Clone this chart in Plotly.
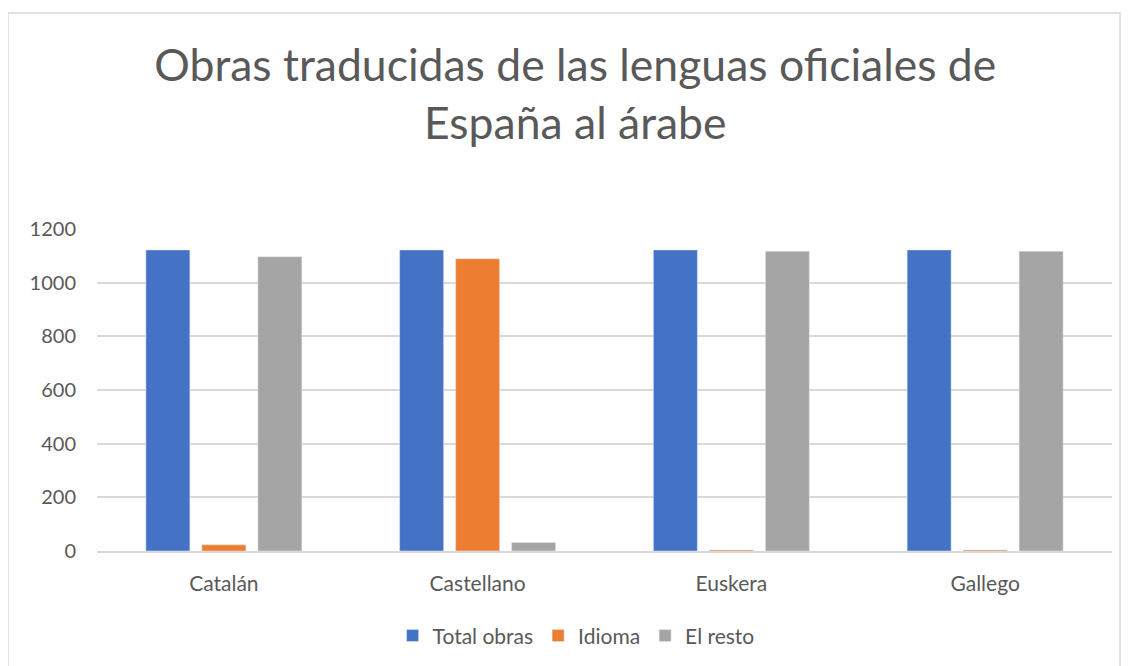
import plotly.graph_objects as go

categorias = ["Catalán", "Castellano", "Euskera", "Gallego"]
total_obras = [1122, 1122, 1122, 1122]
idioma = [23, 1089, 4, 4]
el_resto = [1097, 32, 1117, 1117]
y_ticks = [0, 200, 400, 600, 800, 1000, 1200]

FONT = "Lato"
GRIS_TXT = "#595959"

fig = go.Figure()
fig.add_trace(go.Bar(x=categorias, y=total_obras, name="Total obras", marker_color="#4472C4"))
fig.add_trace(go.Bar(x=categorias, y=idioma, name="Idioma", marker_color="#ED7D31"))
fig.add_trace(go.Bar(x=categorias, y=el_resto, name="El resto", marker_color="#A5A5A5"))

fig.update_layout(
    width=1130,
    height=666,
    paper_bgcolor="white",
    plot_bgcolor="white",
    margin=dict(l=89, r=26, t=221, b=123),
    barmode="group",
    bargap=0.338,
    bargroupgap=0.214,
    font=dict(family=FONT, color=GRIS_TXT, size=20),
    title=dict(
        text="Obras traducidas de las lenguas oficiales de<br>España al árabe",
        font=dict(family=FONT, size=44.5, color=GRIS_TXT),
        x=0.502,
        xanchor="center",
        y=0.89,
        yanchor="top",
    ),
    legend=dict(
        orientation="h",
        x=0.472,
        xanchor="center",
        y=-0.2,
        yanchor="top",
        font=dict(size=21, color=GRIS_TXT),
        itemwidth=30,
    ),
    shapes=[
        dict(
            type="rect",
            xref="paper",
            yref="paper",
            x0=-0.0877,
            x1=1.0079,
            y0=-0.4,
            y1=1.671,
            line=dict(color="#d9d9d9", width=1.5),
            fillcolor="rgba(0,0,0,0)",
            layer="below",
        )
    ],
)

fig.update_xaxes(
    showgrid=False,
    showline=True,
    linecolor="#d9d9d9",
    linewidth=1.5,
    ticks="outside",
    ticklen=13,
    tickcolor="rgba(0,0,0,0)",
    tickfont=dict(size=21, color=GRIS_TXT),
)
fig.update_yaxes(
    range=[0, 1200],
    tickvals=y_ticks,
    showgrid=True,
    gridcolor="#d9d9d9",
    gridwidth=1.5,
    zeroline=False,
    showline=False,
    ticklabelstandoff=20,
    tickfont=dict(size=20, color=GRIS_TXT),
)

fig.write_html("out.html")
